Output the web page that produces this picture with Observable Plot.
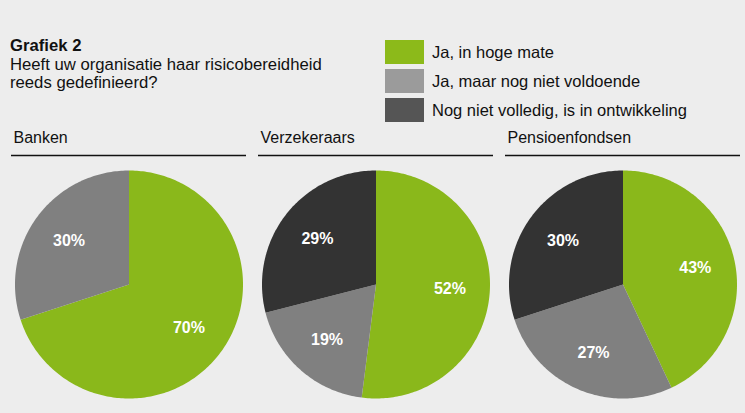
<!DOCTYPE html>
<html>
<head>
<meta charset="utf-8">
<script src="https://cdn.jsdelivr.net/npm/d3@7"></script>
<script src="https://cdn.jsdelivr.net/npm/@observablehq/plot@0.6"></script>
<style>
  html, body { margin: 0; padding: 0; background: #ededed; }
  #root { position: relative; width: 745px; height: 413px; overflow: hidden; background: #ededed;
          font-family: "Liberation Sans", Arial, sans-serif; color: #111; }
  #title { position: absolute; left: 10px; top: 37px; font-size: 16.7px; line-height: 18.5px; }
  #title b { font-weight: bold; }
  #legend { position: absolute; left: 385px; top: 40px; }
  .li { display: flex; align-items: center; height: 24px; margin-bottom: 5px; font-size: 16.5px; }
  .sw { width: 39px; height: 24px; margin-right: 8px; flex: none; }
  #chart { position: absolute; left: 0; top: 125px; }
</style>
</head>
<body>
<div id="root">
  <div id="title"><b>Grafiek 2</b><br>Heeft uw organisatie haar risicobereidheid<br>reeds gedefinieerd?</div>
  <div id="legend"></div>
  <div id="chart"></div>
</div>
<script>
// ---- data ----
const sectors = ["Banken", "Verzekeraars", "Pensioenfondsen"];
const categories = ["Ja, in hoge mate", "Ja, maar nog niet voldoende", "Nog niet volledig, is in ontwikkeling"];
const banken = [70, 30, 0];
const verzekeraars = [52, 19, 29];
const pensioenfondsen = [43, 27, 30];
const pieColors = ["#8ab81b", "#808080", "#333333"];
const legendColors = ["#8cba1a", "#9b9b9b", "#555555"];

// ---- legend ----
const legend = document.getElementById("legend");
categories.forEach((c, i) => {
  const row = document.createElement("div");
  row.className = "li";
  row.innerHTML = `<div class="sw" style="background:${legendColors[i]}"></div><span>${c}</span>`;
  legend.appendChild(row);
});

// ---- slice geometry derived from data ----
const valuesBySector = [banken, verzekeraars, pensioenfondsen];
const points = [];
const labels = [];
const labelR = 0.65;
sectors.forEach((s, si) => {
  const vals = valuesBySector[si];
  const total = d3.sum(vals);
  let acc = 0;
  vals.forEach((v, ci) => {
    if (v <= 0) return;
    const a0 = acc / total * 2 * Math.PI;
    const a1 = (acc + v) / total * 2 * Math.PI;
    acc += v;
    const key = s + "|" + categories[ci];
    points.push({sector: s, category: categories[ci], key, x: 0, y: 0});
    const n = Math.max(2, Math.ceil((a1 - a0) / (Math.PI / 180)));
    for (let k = 0; k <= n; k++) {
      const a = a0 + (a1 - a0) * k / n;
      points.push({sector: s, category: categories[ci], key, x: Math.sin(a), y: Math.cos(a)});
    }
    const am = (a0 + a1) / 2;
    labels.push({sector: s, text: v + "%", x: labelR * Math.sin(am), y: labelR * Math.cos(am)});
  });
});

// ---- layout (pixels per unit radius) ----
const R = 114, W = 745, H = 288, band = 235, cyPx = 159;
const halfW = band / 2 / R;
const yMax = cyPx / R, yMin = -(H - cyPx) / R;
const ruleY = (cyPx - 30) / R;
const headY = (cyPx - 17) / R;

const chart = Plot.plot({
  width: W, height: H,
  marginTop: 0, marginBottom: 0, marginLeft: 11, marginRight: 5,
  style: {background: "transparent", fontFamily: "Liberation Sans, Arial, sans-serif", color: "#111"},
  fx: {domain: sectors, paddingInner: 0.0486, paddingOuter: 0, axis: null, label: null},
  x: {domain: [-halfW, halfW], axis: null},
  y: {domain: [yMin, yMax], axis: null},
  color: {domain: categories, range: pieColors},
  marks: [
    Plot.line(points, {fx: "sector", x: "x", y: "y", z: "key", fill: "category", stroke: "none", curve: "linear-closed"}),
    Plot.text(labels, {fx: "sector", x: "x", y: "y", text: "text", fill: "white", fontWeight: "bold", fontSize: 16}),
    Plot.text(sectors, {fx: d => d, x: -halfW, y: headY, text: d => d, textAnchor: "start", lineAnchor: "bottom", dx: 2, fontSize: 16, fill: "#111"}),
    Plot.ruleY([ruleY], {stroke: "#111", strokeWidth: 1.3})
  ]
});
document.getElementById("chart").appendChild(chart);
</script>
</body>
</html>
